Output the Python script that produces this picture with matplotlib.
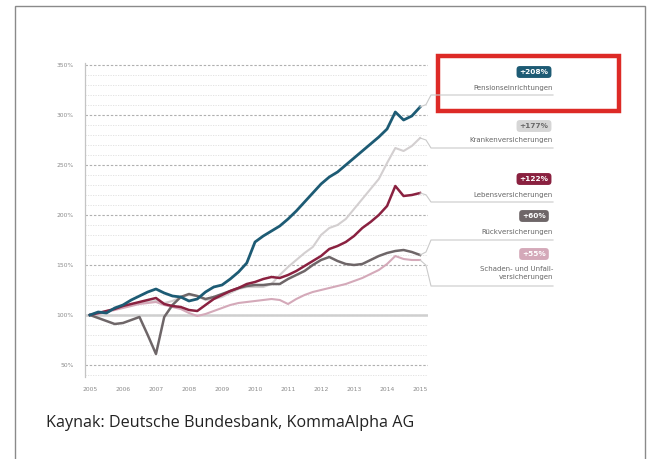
import matplotlib
matplotlib.use("Agg")
import matplotlib.pyplot as plt
import numpy as np
from matplotlib.lines import Line2D
from matplotlib.patches import Rectangle
from matplotlib.ticker import FixedLocator

# Quarterly index values (2005 Q1 = 100%), 2005.00 ... 2015.00
quarters = [2005 + k / 4 for k in range(41)]

pensionseinrichtungen = [100, 103, 102, 107, 110, 115, 119, 123, 126, 122, 119, 118, 114, 116,
                         123, 128, 130, 136, 143, 152, 173, 179, 184, 189, 196, 204, 213, 222,
                         231, 238, 243, 250, 257, 264, 271, 278, 286, 303, 295, 299, 308]
krankenversicherungen = [100, 102, 104, 106, 108, 110, 112, 113, 114, 112, 114, 118, 120, 119,
                         115, 116, 118, 122, 126, 128, 128, 128, 131, 140, 148, 155, 162, 168,
                         180, 187, 190, 196, 206, 216, 226, 236, 252, 267, 264, 269, 277]
lebensversicherungen = [100, 102, 104, 106, 109, 111, 113, 115, 117, 111, 109, 108, 105, 104,
                        110, 116, 120, 124, 127, 131, 133, 136, 138, 137, 140, 144, 149, 154,
                        159, 166, 169, 173, 179, 187, 193, 200, 209, 229, 219, 220, 222]
rueckversicherungen = [100, 97, 94, 91, 92, 95, 98, 80, 61, 98, 110, 118, 121, 119,
                       116, 118, 121, 124, 127, 129, 130, 130, 131, 131, 136, 140, 144, 150,
                       155, 158, 154, 151, 150, 151, 155, 159, 162, 164, 165, 163, 160]
schaden_unfall = [100, 101, 103, 105, 107, 109, 111, 112, 113, 110, 108, 106, 102, 99,
                  101, 104, 107, 110, 112, 113, 114, 115, 116, 115, 111, 116, 120, 123,
                  125, 127, 129, 131, 134, 137, 141, 145, 151, 159, 156, 155, 155]

series_names = ["Pensionseinrichtungen", "Krankenversicherungen", "Lebensversicherungen",
                "Rückversicherungen", "Schaden- und Unfall-\nversicherungen"]
badge_texts = ["+208%", "+177%", "+122%", "+60%", "+55%"]
year_labels = [str(y) for y in range(2005, 2016)]
y_ticks = [50, 100, 150, 200, 250, 300, 350]
caption = "Kaynak: Deutsche Bundesbank, KommaAlpha AG"

W, H = 659, 459
fig = plt.figure(figsize=(W / 100, H / 100), dpi=100)
fig.patch.set_facecolor("white")


def fx(x):
    return x / W


def fy(y):
    return 1 - y / H


# slide frame
fig.patches.append(Rectangle((fx(15), fy(470)), fx(645) - fx(15), fy(6) - fy(470),
                             transform=fig.transFigure, fill=False,
                             edgecolor="#8a8a8a", linewidth=1.0))

# plot area: x 2004.85..2015.24, y 38..352
x0, x1 = 2004.85, 2015.24
y0, y1 = 38, 352
left_px, right_px = 85, 428
top_px = 65 - (y1 - 350)
bot_px = 365 + (50 - y0)
ax = fig.add_axes([fx(left_px), fy(bot_px), fx(right_px) - fx(left_px),
                   fy(top_px) - fy(bot_px)])
ax.set_xlim(x0, x1)
ax.set_ylim(y0, y1)
ax.set_facecolor("none")

for s in ["top", "right", "bottom"]:
    ax.spines[s].set_visible(False)
ax.spines["left"].set_color("#c4c4c4")
ax.spines["left"].set_linewidth(0.9)

# grid: minor every 10 %, major every 50 %
for v in range(40, 351, 10):
    if v % 50 == 0:
        ax.axhline(v, color="#b0b0b0", lw=0.8, ls=(0, (2.2, 1.6)), zorder=1)
    else:
        ax.axhline(v, color="#dedede", lw=0.6, ls=(0, (1.5, 1.5)), zorder=1)
ax.axhline(100, color="#cfcfcf", lw=1.8, zorder=1.5)

ax.yaxis.set_major_locator(FixedLocator(y_ticks))
ax.set_yticklabels([f"{v}%" for v in y_ticks])
ax.xaxis.set_major_locator(FixedLocator(range(2005, 2016)))
ax.set_xticklabels(year_labels)
ax.tick_params(axis="both", length=0, labelsize=4.3, labelcolor="#8a8a8a")
ax.tick_params(axis="y", pad=8)
ax.tick_params(axis="x", pad=7)

colors = ["#1d5b74", "#d3cfd0", "#8a2140", "#6e6668", "#d4a9b9"]
widths = [2.0, 1.5, 1.8, 1.8, 1.5]
zorders = [6, 3, 5, 4, 3]
data = [pensionseinrichtungen, krankenversicherungen, lebensversicherungen,
        rueckversicherungen, schaden_unfall]

for vals, c, lw, z in zip(data, colors, widths, zorders):
    ax.plot(quarters, vals, color=c, lw=lw, zorder=z, solid_joinstyle="round")

# labels on the right with connector lines
fig.canvas.draw()
badge_y = [72, 126, 179, 216, 254]
name_y = [88, 140, 195, 232, 273]
line_y = [95, 148, 202, 240, 286]
badge_fc = ["#1d5b74", "#d6d6d6", "#8a2140", "#6e6668", "#d4a9b9"]
badge_tc = ["white", "#6a6a6a", "white", "white", "white"]

for i, vals in enumerate(data):
    sx, sy = ax.transData.transform((quarters[-1], vals[-1]))
    sy_top = H - sy
    xs = [sx, 426, 431, 553]
    ys = [sy_top, sy_top + (line_y[i] - sy_top) * 0.2, line_y[i], line_y[i]]
    fig.add_artist(Line2D([fx(v) for v in xs], [fy(v) for v in ys],
                          transform=fig.transFigure, color="#cacaca", lw=0.8))
    fig.text(fx(534), fy(badge_y[i]), badge_texts[i], ha="center", va="center",
             fontsize=5.3, color=badge_tc[i], fontweight="bold",
             bbox=dict(boxstyle="round,pad=0.4,rounding_size=0.45",
                       fc=badge_fc[i], ec="none"))
    fig.text(fx(553), fy(name_y[i]), series_names[i], ha="right", va="center",
             fontsize=5.0, color="#666666", linespacing=1.45)

# highlight box
fig.patches.append(Rectangle((fx(438), fy(111)), fx(619) - fx(438), fy(56) - fy(111),
                             transform=fig.transFigure, fill=False,
                             edgecolor="#dd2a26", linewidth=3.2))

fig.text(fx(46), fy(423), caption, ha="left", va="center",
         fontsize=11.6, color="#222222", family=["Open Sans", "DejaVu Sans"])

fig.savefig("out.png", dpi=100, facecolor="white")
